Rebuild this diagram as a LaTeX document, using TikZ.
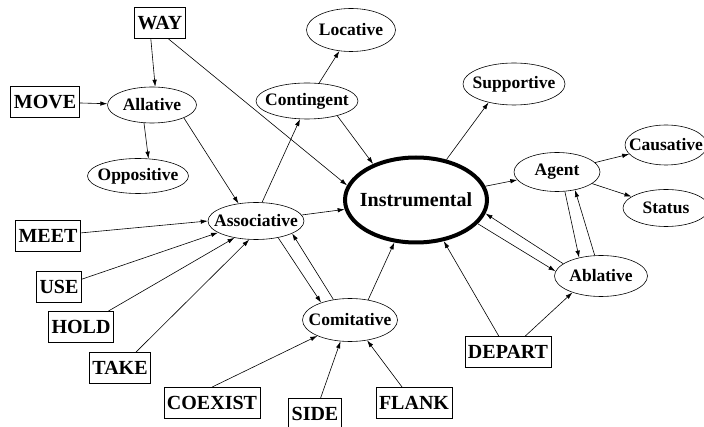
\documentclass[tikz,border=0pt]{standalone}
\usepackage{fontspec}
\setmainfont{Liberation Serif}
\usetikzlibrary{shapes.geometric, arrows.meta}
\tikzstyle{verb} = [draw, rectangle, line width=0.8pt, inner xsep=3pt, minimum height=31pt, font=\fontsize{20}{24}\selectfont\bfseries]
\tikzstyle{role} = [draw, ellipse, line width=0.6pt, inner xsep=-8pt, inner ysep=0pt, font=\fontsize{17.5}{20}\selectfont\bfseries]
\tikzstyle{link} = [line width=0.6pt, -{Latex[length=7pt,width=4.5pt]}]

\begin{document}
\begin{tikzpicture}[x=1pt, y=-1pt]
\useasboundingbox (0,0) rectangle (704,427);
\clip (0,0) rectangle (704,427);

% Verb boxes
\node[verb] (way) at (160,23) {WAY};
\node[verb] (move) at (45,102) {MOVE};
\node[verb] (meet) at (48,236) {MEET};
\node[verb] (use) at (59,287) {USE};
\node[verb] (hold) at (81,327) {HOLD};
\node[verb] (take) at (120,368) {TAKE};
\node[verb] (coex) at (212,403) {COEXIST};
\node[verb] (side) at (315,414) {SIDE};
\node[verb] (flank) at (414,403) {FLANK};
\node[verb] (depart) at (508,352) {DEPART};

% Roles
\node[role, line width=4pt, font=\fontsize{20}{24}\selectfont\bfseries, minimum width=142pt, minimum height=85pt] (inst) at (416,200) {Instrumental};
\node[role, minimum width=89pt, minimum height=36pt] (alla) at (152,105) {Allative};
\node[role, minimum width=101pt, minimum height=35pt] (oppo) at (138,176) {Oppositive};
\node[role, minimum width=89pt, minimum height=43pt] (loc) at (351,30) {Locative};
\node[role, minimum width=102pt, minimum height=36pt] (cont) at (307,101) {Contingent};
\node[role, minimum width=102pt, minimum height=42pt] (supp) at (514,84) {Supportive};
\node[role, minimum width=82pt, minimum height=40pt] (caus) at (666,145) {Causative};
\node[role, minimum width=86pt, minimum height=37pt] (stat) at (666,208) {Status};
\node[role, minimum width=86pt, minimum height=39pt] (agent) at (557,172) {Agent};
\node[role, minimum width=93pt, minimum height=41pt] (abla) at (601,276) {Ablative};
\node[role, minimum width=96pt, minimum height=37pt] (asso) at (256,221) {Associative};
\node[role, minimum width=95pt, minimum height=43pt] (comi) at (350,320) {Comitative};

% Arrows, upper left
\draw[link] (way.240) -- (alla.80);
\draw[link] (way.-62) -- (inst.168);
\draw[link] (move) -- (alla);
\draw[link] (alla.246) -- (oppo.59);
\draw[link] (alla.-22) -- (asso.135);
\draw[link] (asso.72) -- (cont.249);
\draw[link] (cont.56) -- (loc.241);
\draw[link] (cont.-26) -- (inst.140);
\draw[link] (asso) -- (inst);

% Arrows into Associative
\draw[link] (meet) -- (asso.west);
\draw[link] (use) -- (asso.197);
\draw[link] (hold) -- (asso.218);
\draw[link] (take) -- (asso.250);
\draw[link] (asso.-37) -- (comi.149);
\draw[link] (comi.129) -- (asso.-19);

% Arrows into Comitative
\draw[link] (coex.north) -- (comi.206);
\draw[link] (side) -- (comi.246);
\draw[link] (flank) -- (comi.-50);
\draw[link] (comi.48) -- (inst.243);

% Right side
\draw[link] (depart) -- (inst.-56);
\draw[link] (depart) -- (abla.210);
\draw[link] (inst.-21) -- (abla.174);
\draw[link] (abla.162) -- (inst.-11);
\draw[link] (agent.-68) -- (abla.140);
\draw[link] (abla.107) -- (agent.-45);
\draw[link] (inst) -- (agent);
\draw[link] (agent) -- (caus);
\draw[link] (agent) -- (stat);
\draw[link] (inst.53) -- (supp.216);
\end{tikzpicture}
\end{document}
